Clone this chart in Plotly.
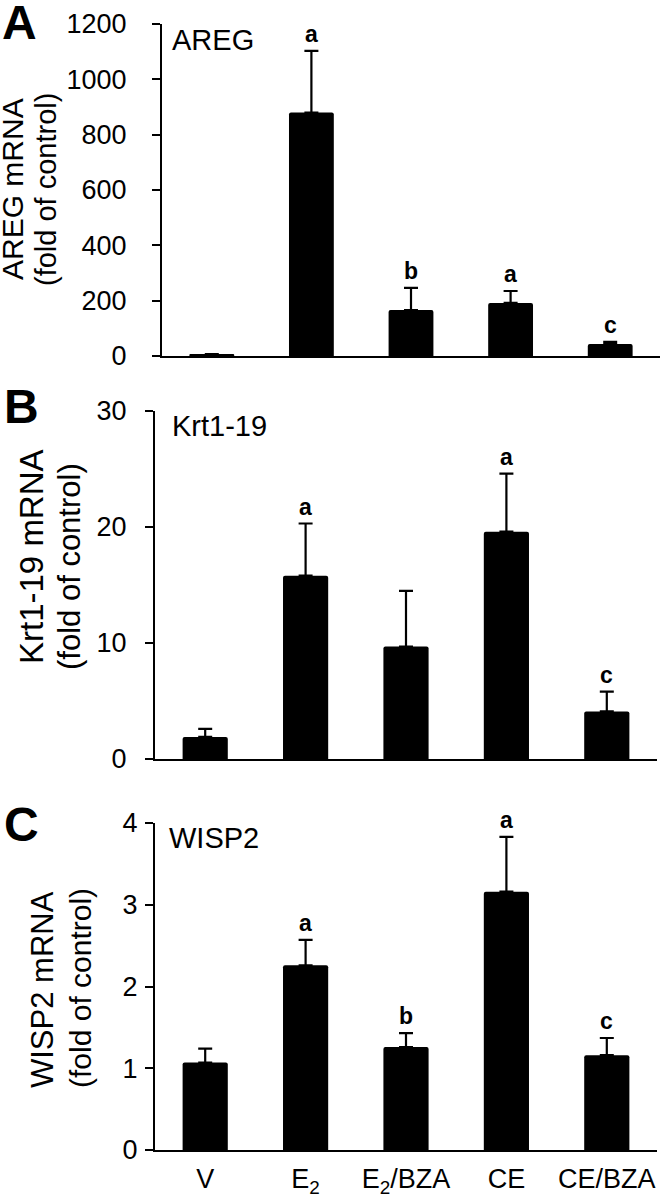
import plotly.graph_objects as go

# ---- data ----
categories = ["V", "E<sub>2</sub>", "E<sub>2</sub>/BZA", "CE", "CE/BZA"]

areg_mean = [5, 880, 166, 192, 43]
areg_err = [2, 223, 80, 43, 8]
areg_sig = ["", "a", "b", "a", "c"]

krt_mean = [1.9, 15.8, 9.7, 19.6, 4.1]
krt_err = [0.7, 4.5, 4.8, 5.0, 1.7]
krt_sig = ["", "a", "", "a", "c"]

wisp_mean = [1.07, 2.26, 1.26, 3.16, 1.16]
wisp_err = [0.17, 0.31, 0.17, 0.67, 0.21]
wisp_sig = ["", "a", "b", "a", "c"]

panel_letters = ["A", "B", "C"]
gene_names = ["AREG", "Krt1-19", "WISP2"]
y_title_line1 = ["AREG mRNA", "Krt1-19 mRNA", "WISP2 mRNA"]
y_title_line2 = ["(fold of control)", "(fold of control)", "(fold of control)"]
y_ranges = [[0, 1200], [0, 30], [0, 4]]
y_dticks = [200, 10, 1]

W, H = 663, 1199
FONT = "Arial, Liberation Sans, sans-serif"

def px_x(p):
    return p / W

def px_y(p):
    return 1 - p / H

# panel geometry (pixels)
panels = [
    dict(x0=162, x1=660, ytop=24, ybot=356, letter=(19, 22), gene=(170, 40),
         t1=(12, 189, 30), t2=(46, 190, 29), standoff=20),
    dict(x0=155, x1=657, ytop=411, ybot=759, letter=(21, 407), gene=(170, 426),
         t1=(31, 557, 33), t2=(70, 567, 31), standoff=13),
    dict(x0=155, x1=657, ytop=823, ybot=1150, letter=(21, 824), gene=(167, 838),
         t1=(42, 990, 31), t2=(80, 988, 30), standoff=2),
]

means = [areg_mean, krt_mean, wisp_mean]
errs = [areg_err, krt_err, wisp_err]
sigs = [areg_sig, krt_sig, wisp_sig]

fig = go.Figure()
annotations = []
layout = {}
for i in range(3):
    n = "" if i == 0 else str(i + 1)
    xa = "x" + n
    ya = "y" + n
    p = panels[i]
    fig.add_trace(go.Bar(
        x=list(range(len(categories))), y=means[i],
        xaxis=xa, yaxis=ya, width=0.45,
        marker=dict(color="black", line=dict(width=0), cornerradius=2),
        error_y=dict(type="data", symmetric=False, array=errs[i],
                     arrayminus=[0] * len(errs[i]), color="black",
                     thickness=2.2, width=7),
        showlegend=False,
    ))
    xax = dict(
        domain=[px_x(p["x0"]), px_x(p["x1"])], anchor=ya,
        range=[-0.5, 4.5], showline=True, linecolor="black", linewidth=2,
        ticks="", showgrid=False, zeroline=False, automargin=False,
        showticklabels=(i == 2),
    )
    if i == 2:
        xax.update(tickmode="array", tickvals=list(range(len(categories))),
                   ticktext=categories,
                   tickfont=dict(family=FONT, size=27, color="black"),
                   ticklabelstandoff=4)
    layout["xaxis" + n] = xax
    layout["yaxis" + n] = dict(
        domain=[px_y(p["ybot"]), px_y(p["ytop"])], anchor=xa,
        range=y_ranges[i], dtick=y_dticks[i], tick0=0,
        showline=True, linecolor="black", linewidth=2,
        ticks="outside", ticklen=8, tickwidth=2, tickcolor="black",
        showgrid=False, zeroline=False, automargin=False,
        tickfont=dict(family=FONT, size=27, color="black"),
        ticklabelstandoff=p["standoff"],
    )
    # significance letters
    for j, s in enumerate(sigs[i]):
        if s:
            annotations.append(dict(
                x=j, y=means[i][j] + errs[i][j], xref=xa, yref=ya,
                text="<b>%s</b>" % s, showarrow=False,
                xanchor="center", yanchor="bottom", yshift=2,
                font=dict(family=FONT, size=23, color="black"),
            ))
    # panel letter
    annotations.append(dict(
        x=px_x(p["letter"][0]), y=px_y(p["letter"][1]), xref="paper", yref="paper",
        text="<b>%s</b>" % panel_letters[i], showarrow=False,
        xanchor="center", yanchor="middle",
        font=dict(family=FONT, size=48, color="black"),
    ))
    # gene label
    annotations.append(dict(
        x=px_x(p["gene"][0]), y=px_y(p["gene"][1]), xref="paper", yref="paper",
        text=gene_names[i], showarrow=False,
        xanchor="left", yanchor="middle",
        font=dict(family=FONT, size=29, color="black"),
    ))
    # y title (two lines)
    for key, txt in (("t1", y_title_line1[i]), ("t2", y_title_line2[i])):
        cx, cy, fs = p[key]
        annotations.append(dict(
            x=px_x(cx), y=px_y(cy), xref="paper", yref="paper",
            text=txt, showarrow=False, textangle=-90,
            xanchor="center", yanchor="middle",
            font=dict(family=FONT, size=fs, color="black"),
        ))

fig.update_layout(
    width=W, height=H,
    margin=dict(l=0, r=0, t=0, b=0, autoexpand=False),
    paper_bgcolor="white", plot_bgcolor="white",
    annotations=annotations,
    **layout,
)

fig.write_html("out.html", config={"displayModeBar": False},
               post_script="document.body.style.margin='0';document.body.style.overflow='hidden';")
